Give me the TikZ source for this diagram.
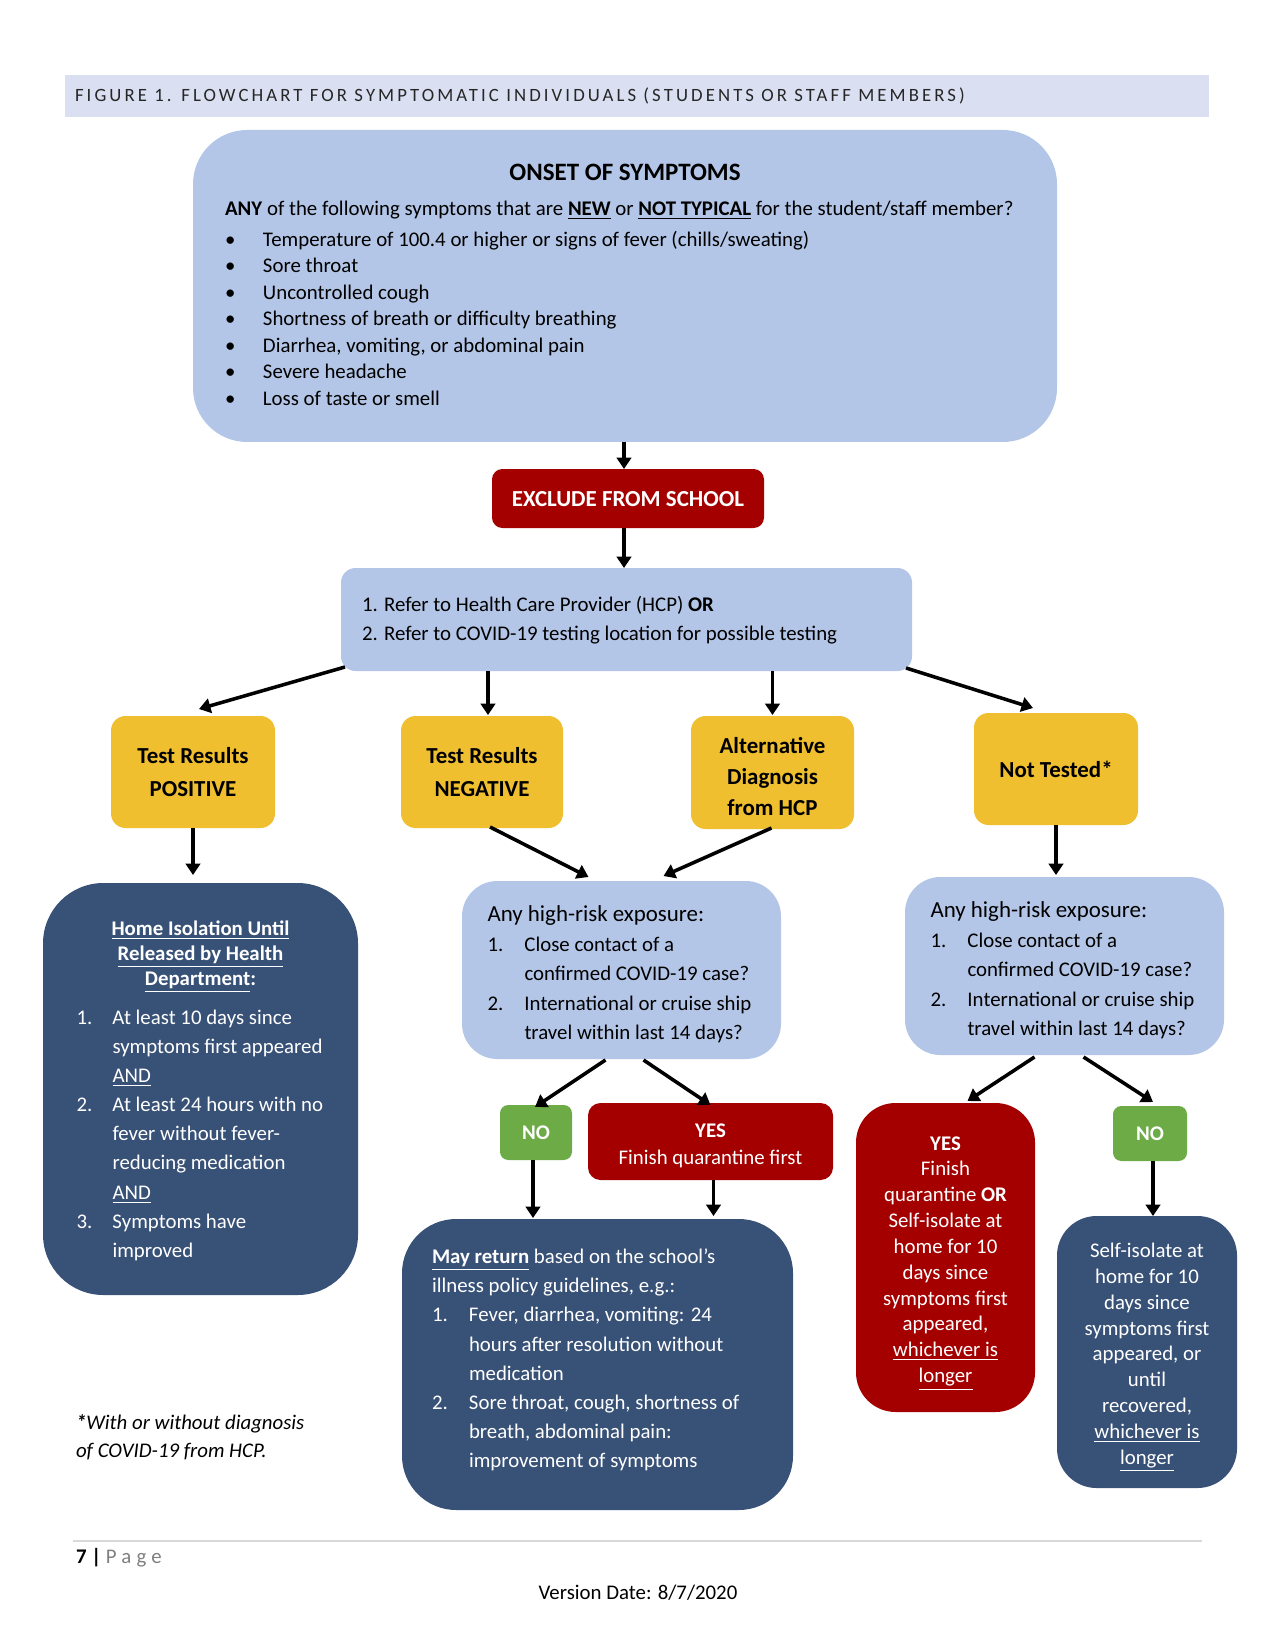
\documentclass[tikz,border=0pt]{standalone}
\usepackage{fontspec}
\setmainfont{Carlito}
\newfontfamily\bandfont[LetterSpace=16.5]{Carlito}
\newfontfamily\pagefont[LetterSpace=25]{Carlito}
\usetikzlibrary{arrows.meta,calc}
\newdimen\pxu \pxu=0.48pt
\definecolor{band}{HTML}{DAE0F2}
\definecolor{lblue}{HTML}{B4C6E7}
\definecolor{dred}{HTML}{A50000}
\definecolor{gold}{HTML}{EFBF30}
\definecolor{dgreen}{HTML}{6DAB47}
\definecolor{navy}{HTML}{385177}
\newcommand\fs[2]{\fontsize{#1}{#2}\selectfont}
\newcommand\LL[2]{\makebox[#1\pxu][l]{#2}}
\newcommand\LC[2]{\makebox[#1\pxu][c]{#2}}
\newcommand\NN[3]{\makebox[#1\pxu][l]{#2}#3}
\newcommand\II[2]{\hspace*{#1\pxu}#2}
\newcommand\uln[1]{\underline{#1}}
\newcommand\bul{\makebox[38\pxu][l]{\textbullet}}
% top strut: first line taller by #1 (text block moves down by about #1/2)
\newcommand\TS[1]{\setbox0\hbox{(lhdfA}\rule{0pt}{\dimexpr\ht0+#1\relax}}
% bottom strut: last line deeper by #1 (text block moves up by about #1/2)
\newcommand\BS[1]{\setbox0\hbox{gjpy}\rule[-\dimexpr\dp0+#1\relax]{0pt}{\dimexpr\dp0+#1\relax}}
\begin{document}
\begin{tikzpicture}[x=0.48pt,y=-0.48pt,
  corners/.style n args={4}{at={({(#1+#3)/2},{(#2+#4)/2})},
     minimum width={(#3-#1)*0.48pt}, minimum height={(#4-#2)*0.48pt}},
  box/.style={inner sep=0pt, outer sep=0pt, align=center, anchor=center},
  lbbox/.style={box, fill=lblue},
  redbox/.style={box, fill=dred, text=white},
  goldbox/.style={box, fill=gold, rounded corners=7pt, font=\fs{11}{15.4}\bfseries},
  navybox/.style={box, fill=navy, text=white},
  greenbox/.style={box, fill=dgreen, text=white, rounded corners=4pt, font=\fs{10}{12}\bfseries},
  arr/.style={line width=1.7pt, -{Triangle[length=5.5pt,width=7pt]}},
  plain/.style={inner sep=0pt, outer sep=0pt}
]
\fill[white] (0,0) rectangle (1275,1650);
\useasboundingbox (0,0) rectangle (1275,1650);

% title band
\node[box, fill=band, corners={65}{75}{1209}{117}] (band) {};
\node[plain, anchor=base west, text=black!85] (bandtext) at (75,102)
  {\bandfont\fs{9}{10}FIGURE 1. FLOWCHART FOR SYMPTOMATIC INDIVIDUALS (STUDENTS OR STAFF MEMBERS)};

% onset
\node[lbbox, rounded corners=26pt, corners={193}{130}{1057}{442}, font=\fs{10}{12.7}] (onset) {%
\LC{800}{\fs{12}{14}\bfseries ONSET OF SYMPTOMS}\\[4.1pt]
\LL{800}{\textbf{ANY} of the following symptoms that are \textbf{\uln{NEW}} or \textbf{\uln{NOT TYPICAL}} for the student/staff member?}\\[2.2pt]
\LL{800}{\bul Temperature of 100.4 or higher or signs of fever (chills/sweating)}\\
\LL{800}{\bul Sore throat}\\
\LL{800}{\bul Uncontrolled cough}\\
\LL{800}{\bul Shortness of breath or difficulty breathing}\\
\LL{800}{\bul Diarrhea, vomiting, or abdominal pain}\\
\LL{800}{\bul Severe headache}\\
\BS{-0.3pt}\LL{800}{\bul Loss of taste or smell}};

% exclude
\node[redbox, rounded corners=5pt, corners={492}{469}{764}{528}, font=\fs{11}{13}\bfseries] (exclude) {\TS{-0.3pt}EXCLUDE FROM SCHOOL};

% refer
\node[lbbox, rounded corners=7pt, corners={341}{568}{912}{671}, font=\fs{10}{13.9}] (refer) {%
\TS{0.7pt}\LL{529}{1. Refer to Health Care Provider (HCP) \textbf{OR}}\\
\LL{529}{2. Refer to COVID-19 testing location for possible testing}};

% gold boxes
\node[goldbox, corners={111}{716}{275}{828}] (pos) {Test Results\\POSITIVE};
\node[goldbox, corners={401}{716}{563}{828}] (neg) {Test Results\\NEGATIVE};
\node[goldbox, corners={691}{716}{854}{829}, font=\fs{11}{15}\bfseries] (alt) {\TS{3.2pt}Alternative\\Diagnosis\\from HCP};
\node[goldbox, corners={974}{713}{1138}{825}] (nt) {Not Tested*};

% home isolation
\node[navybox, rounded corners=29pt, corners={43}{883}{358}{1295}, font=\fs{10}{12}] (home) {%
\TS{1.2pt}\LC{248}{\textbf{\uln{Home Isolation Until}}}\\
\LC{248}{\textbf{\uln{Released by Health}}}\\
\LC{248}{\textbf{\uln{Department}:}}\\[6.7pt]
\LL{248}{\NN{36}{1.}{At least 10 days since}}\\[2pt]
\LL{248}{\II{36}{symptoms first appeared}}\\[2pt]
\LL{248}{\II{36}{\uln{AND}}}\\[2pt]
\LL{248}{\NN{36}{2.}{At least 24 hours with no}}\\[2pt]
\LL{248}{\II{36}{fever without fever-}}\\[2pt]
\LL{248}{\II{36}{reducing medication}}\\[2pt]
\LL{248}{\II{36}{\uln{AND}}}\\[2pt]
\LL{248}{\NN{36}{3.}{Symptoms have}}\\[2pt]
\LL{248}{\II{36}{improved}}};

% middle exposure
\node[lbbox, rounded corners=17pt, corners={462}{881}{781}{1059}, font=\fs{10}{14.15}] (mexp) {%
\LL{268}{\fs{11}{14.15}\TS{3.5pt}Any high-risk exposure:}\\[0.3pt]
\LL{268}{\NN{37}{1.}{Close contact of a}}\\
\LL{268}{\II{37}{confirmed COVID-19 case?}}\\
\LL{268}{\NN{37}{2.}{International or cruise ship}}\\
\LL{268}{\II{37}{travel within last 14 days?}}};

% right exposure
\node[lbbox, rounded corners=17pt, corners={905}{877}{1224}{1055}, font=\fs{10}{14.15}] (rexp) {%
\LL{268}{\fs{11}{14.15}\TS{3.5pt}Any high-risk exposure:}\\[0.3pt]
\LL{268}{\NN{37}{1.}{Close contact of a}}\\
\LL{268}{\II{37}{confirmed COVID-19 case?}}\\
\LL{268}{\NN{37}{2.}{International or cruise ship}}\\
\LL{268}{\II{37}{travel within last 14 days?}}};

% middle NO / YES
\node[greenbox, corners={500}{1105}{572}{1160}] (mno) {\TS{-0.3pt}NO};
\node[redbox, rounded corners=6pt, corners={588}{1103}{833}{1180}, font=\fs{10}{13}] (myes) {\TS{3.1pt}\textbf{YES}\\Finish quarantine first};

% may return
\node[navybox, rounded corners=26pt, corners={402}{1219}{793}{1510}, font=\fs{10}{14}] (may) {%
\LL{331}{\textbf{\uln{May return}} based on the school’s}\\
\LL{331}{illness policy guidelines, e.g.:}\\
\LL{331}{\NN{37}{1.}{Fever, diarrhea, vomiting: 24}}\\
\LL{331}{\II{37}{hours after resolution without}}\\
\LL{331}{\II{37}{medication}}\\
\LL{331}{\NN{37}{2.}{Sore throat, cough, shortness of}}\\
\LL{331}{\II{37}{breath, abdominal pain:}}\\
\BS{4.2pt}\LL{331}{\II{37}{improvement of symptoms}}};

% right YES / NO
\node[redbox, rounded corners=19pt, corners={856}{1103}{1035}{1412}, font=\fs{10}{12.4}] (ryes) {%
\TS{4.9pt}\textbf{YES}\\Finish\\quarantine \textbf{OR}\\Self-isolate at\\home for 10\\days since\\symptoms first\\appeared,\\\uln{whichever is}\\\uln{longer}};
\node[greenbox, corners={1113}{1106}{1187}{1161}] (rno) {\TS{-0.3pt}NO};
\node[navybox, rounded corners=19pt, corners={1057}{1216}{1237}{1488}, font=\fs{10}{12.4}] (rblue) {%
\TS{5pt}Self-isolate at\\home for 10\\days since\\symptoms first\\appeared, or\\until\\recovered,\\\uln{whichever is}\\\uln{longer}};

% footnote
\node[plain, anchor=west, align=left, font=\fs{10}{13.4}\itshape] (foot) at (76,1437) {\textbf{*}With or without diagnosis\\of COVID-19 from HCP.};

% footer
\draw[black!15, line width=0.6pt] (73,1541) -- (1202,1541);
\node[plain, anchor=base west] (pg) at (76,1563) {\fs{10}{12}\textbf{7 |} {\color{black!50}\pagefont Page}};
\node[plain, anchor=base] (ver) at (638,1599) {\fs{10}{12}Version Date: 8/7/2020};

% connectors
\draw[arr] ($(onset.south)+(-1,0)$) -- ($(onset.south |- exclude.north)+(-1,0)$);
\draw[arr] ($(exclude.south)+(-4,0)$) -- ($(exclude.south |- refer.north)+(-4,0)$);
\draw[arr] ($(refer.south west)+(4,-4)$) -- ($(pos.north)+(6,-7)$);
\draw[arr] ($(neg.north |- refer.south)+(6,0)$) -- ($(neg.north)+(6,-1)$);
\draw[arr] (alt.north |- refer.south) -- ($(alt.north)+(0,-1)$);
\draw[arr] ($(refer.south east)+(-6,-3)$) -- ($(nt.north)+(-23,-5)$);
\draw[arr] (pos.south) -- ($(pos.south |- home.north)+(0,-8)$);
\draw[arr] ($(neg.south)+(8,-1)$) -- ($(mexp.north)+(-33,-4)$);
\draw[arr] ($(alt.south)+(-1,-1)$) -- ($(mexp.north)+(42,-5)$);
\draw[arr] (nt.south) -- ($(nt.south |- rexp.north)+(0,-2)$);
\draw[arr] ($(mexp.south)+(-16,1)$) -- ($(mno.north)+(-1,2)$);
\draw[arr] ($(mexp.south)+(22,1)$) -- ($(myes.north)+(0,2)$);
\draw[arr] ($(mno.south)+(-3,0)$) -- ($(mno.south |- may.north)+(-3,-1)$);
\draw[arr] ($(myes.south)+(3,0)$) -- ($(myes.south |- may.north)+(3,-3)$);
\draw[arr] ($(rexp.south)+(-30,2)$) -- ($(ryes.north)+(22,-2)$);
\draw[arr] ($(rexp.south)+(19,2)$) -- ($(rno.north)+(3,-4)$);
\draw[arr] ($(rno.south)+(3,0)$) -- ($(rno.south |- rblue.north)+(3,0)$);
\end{tikzpicture}
\end{document}
